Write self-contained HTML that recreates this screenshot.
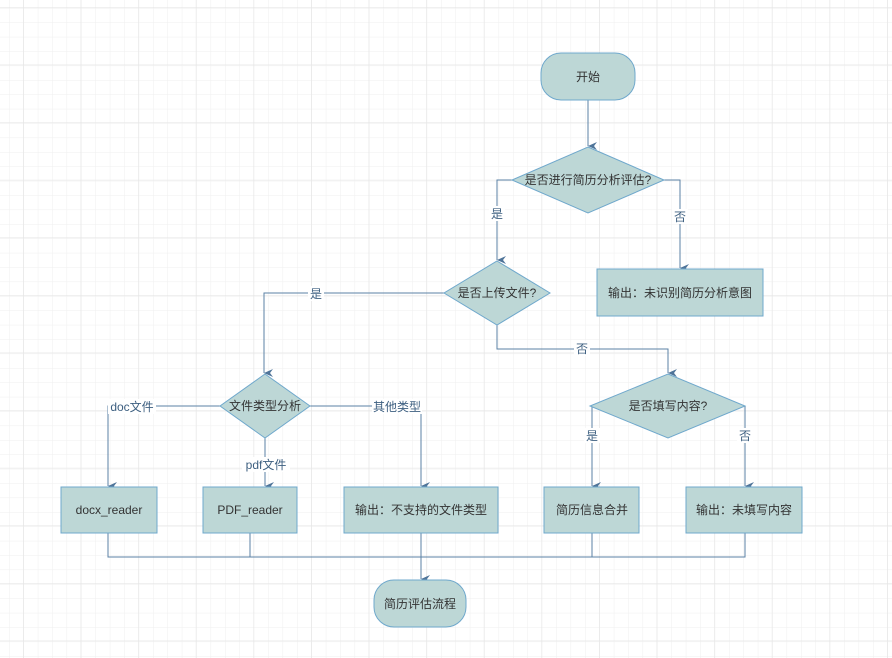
<!DOCTYPE html>
<html><head><meta charset="utf-8"><style>
html,body{margin:0;padding:0;width:892px;height:658px;overflow:hidden;background:#fff}
svg{display:block}
text{font-family:"Liberation Sans","Noto Sans CJK SC",sans-serif;font-size:12px;fill:#333}
.l{fill:#3d5f80}
</style></head><body>
<svg width="892" height="658" viewBox="0 0 892 658" xmlns="http://www.w3.org/2000/svg">
<defs>
<pattern id="g" x="9" y="8" width="14.4" height="14.4" patternUnits="userSpaceOnUse"><path d="M0 0H14.4M0 0V14.4" stroke="#efefef" stroke-width="1" fill="none"/></pattern>
<pattern id="G" x="23" y="7" width="57.6" height="57.6" patternUnits="userSpaceOnUse"><path d="M0 0H57.6M0 0V57.6" stroke="#e6e6e6" stroke-width="1.2" fill="none"/></pattern>
<marker id="a" markerWidth="8" markerHeight="10" refX="4" refY="9" orient="auto" markerUnits="userSpaceOnUse" viewBox="0 0 8 10"><path d="M0 0L4 9L8 0L4 3Z" fill="#4f7499"/></marker>
</defs>
<rect width="892" height="658" fill="url(#g)"/>
<rect width="892" height="658" fill="url(#G)"/>
<g fill="none" stroke="#5b82a6" stroke-width="1">
<path d="M588 100V146" marker-end="url(#a)"/>
<path d="M512 180H497V260" marker-end="url(#a)"/>
<path d="M664 180H680V268" marker-end="url(#a)"/>
<path d="M444 293H264V373" marker-end="url(#a)"/>
<path d="M497 325V349H668V373" marker-end="url(#a)"/>
<path d="M220 406H108V486" marker-end="url(#a)"/>
<path d="M265 438V486" marker-end="url(#a)"/>
<path d="M310 406H421V486" marker-end="url(#a)"/>
<path d="M590 406H592V486" marker-end="url(#a)"/>
<path d="M745 406V486" marker-end="url(#a)"/>
<path d="M108 533V557H745V533M250 533V557M592 533V557"/>
<path d="M421 533V579" marker-end="url(#a)"/>
</g>
<g fill="#bdd7d6" stroke="#6fa8cc" stroke-width="1">
<rect x="541" y="53" width="94" height="47" rx="20"/>
<path d="M588 147L664 180L588 213L512 180Z"/>
<rect x="597" y="269" width="166" height="47"/>
<path d="M497 261L550 293L497 325L444 293Z"/>
<path d="M265 374L310 406L265 438L220 406Z"/>
<path d="M668 374L745 406L668 438L590 406Z"/>
<rect x="61" y="487" width="96" height="46"/>
<rect x="203" y="487" width="94" height="46"/>
<rect x="344" y="487" width="154" height="46"/>
<rect x="544" y="487" width="95" height="46"/>
<rect x="686" y="487" width="116" height="46"/>
<rect x="374" y="580" width="92" height="47" rx="20"/>
</g>
<g text-anchor="middle">
<text x="588" y="81">开始</text>
<text x="588" y="184">是否进行简历分析评估?</text>
<text x="680" y="297">输出：未识别简历分析意图</text>
<text x="497" y="297">是否上传文件?</text>
<text x="265" y="410">文件类型分析</text>
<text x="668" y="410">是否填写内容?</text>
<text x="109" y="514">docx_reader</text>
<text x="250" y="514">PDF_reader</text>
<text x="421" y="514">输出：不支持的文件类型</text>
<text x="592" y="514">简历信息合并</text>
<text x="744" y="514">输出：未填写内容</text>
<text x="420" y="608">简历评估流程</text>
</g>
<g text-anchor="middle" class="lbl">
<rect x="489" y="206" width="16" height="15" fill="#fff"/><text class="l" x="497" y="218">是</text>
<rect x="672" y="209" width="16" height="15" fill="#fff"/><text class="l" x="680" y="221">否</text>
<rect x="308" y="286" width="16" height="15" fill="#fff"/><text class="l" x="316" y="298">是</text>
<rect x="574" y="341" width="16" height="15" fill="#fff"/><text class="l" x="582" y="353">否</text>
<rect x="108" y="399" width="48" height="15" fill="#fff"/><text class="l" x="132" y="411">doc文件</text>
<rect x="242" y="457" width="48" height="15" fill="#fff"/><text class="l" x="266" y="469">pdf文件</text>
<rect x="372" y="399" width="50" height="15" fill="#fff"/><text class="l" x="397" y="411">其他类型</text>
<rect x="584" y="428" width="16" height="15" fill="#fff"/><text class="l" x="592" y="440">是</text>
<rect x="737" y="428" width="16" height="15" fill="#fff"/><text class="l" x="745" y="440">否</text>
</g>
</svg>
</body></html>
